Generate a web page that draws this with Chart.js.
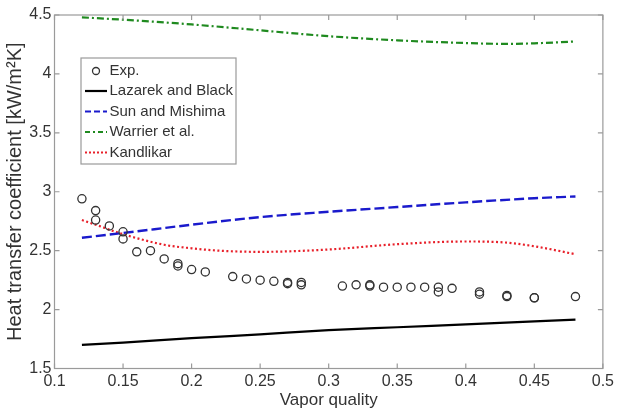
<!DOCTYPE html>
<html>
<head>
<meta charset="utf-8">
<script src="https://cdn.jsdelivr.net/npm/chart.js@4/dist/chart.umd.min.js"></script>
<style>
html,body{margin:0;padding:0;background:#fff;}
canvas{display:block;}
</style>
</head>
<body>
<canvas id="c" width="617" height="415"></canvas>
<script>
// ---- data ----
const expX = [0.12,0.13,0.13,0.14,0.15,0.15,0.16,0.17,0.18,0.19,0.19,0.20,0.21,0.23,0.24,0.25,0.26,0.27,0.27,0.28,0.28,
              0.31,0.32,0.33,0.33,0.34,0.35,0.36,0.37,0.38,0.38,0.39,0.41,0.41,0.43,0.43,0.45,0.45,0.48];
const expY = [2.94,2.84,2.76,2.71,2.66,2.60,2.49,2.50,2.43,2.39,2.37,2.34,2.32,2.28,2.26,2.25,2.24,2.23,2.22,2.23,2.21,
              2.20,2.21,2.21,2.20,2.19,2.19,2.19,2.19,2.19,2.15,2.18,2.15,2.13,2.12,2.11,2.10,2.10,2.11];

const lazX = [0.12,0.15,0.20,0.25,0.30,0.35,0.40,0.45,0.48];
const lazY = [1.70,1.72,1.757,1.79,1.825,1.85,1.875,1.90,1.915];

const sunX = [0.12,0.15,0.20,0.25,0.30,0.35,0.40,0.45,0.48];
const sunY = [2.61,2.65,2.72,2.785,2.83,2.87,2.91,2.945,2.96];

const warX = [0.12,0.15,0.20,0.25,0.30,0.35,0.40,0.43,0.45,0.48];
const warY = [4.48,4.46,4.42,4.37,4.32,4.285,4.262,4.255,4.26,4.275];

const kanX = [0.12,0.13,0.15,0.18,0.20,0.22,0.25,0.30,0.35,0.40,0.43,0.45,0.48];
const kanY = [2.76,2.72,2.64,2.55,2.52,2.50,2.49,2.51,2.555,2.578,2.568,2.537,2.47];

const xTicks = [0.1,0.15,0.2,0.25,0.3,0.35,0.4,0.45,0.5];
const xTickLabels = ['0.1','0.15','0.2','0.25','0.3','0.35','0.4','0.45','0.5'];
const yTicks = [1.5,2,2.5,3,3.5,4,4.5];
const yTickLabels = ['1.5','2','2.5','3','3.5','4','4.5'];

const seriesNames = ['Exp.','Lazarek and Black','Sun and Mishima','Warrier et al.','Kandlikar'];
const xTitle = 'Vapor quality';
const yTitle = 'Heat transfer coefficient [kW/m\u00B2K]';

// ---- chart ----
const FONT = '"Liberation Sans", Arial, sans-serif';
const TXT = '#333';
const FRAME = '#9a9a9a';
const zip = (xs, ys) => xs.map((x, i) => ({x, y: ys[i]}));

const lineDs = (label, xs, ys, color, dash, width) => ({
  type: 'scatter', label, data: zip(xs, ys), showLine: true,
  borderColor: color, backgroundColor: color, borderWidth: width, borderDash: dash,
  pointRadius: 0, pointHoverRadius: 0, cubicInterpolationMode: 'monotone', fill: false
});

const datasets = [
  {type: 'scatter', label: seriesNames[0], data: zip(expX, expY), showLine: false,
   pointStyle: 'circle', pointRadius: 4.1, borderWidth: 1.3, borderColor: '#333',
   backgroundColor: 'rgba(0,0,0,0)', order: 0},
  Object.assign(lineDs(seriesNames[1], lazX, lazY, '#000', [], 2.2), {order: 1}),
  Object.assign(lineDs(seriesNames[2], sunX, sunY, '#1a1acc', [10, 4], 2.4), {order: 1}),
  Object.assign(lineDs(seriesNames[3], warX, warY, '#1f8a1f', [7, 3, 2, 3], 2.2), {order: 1}),
  Object.assign(lineDs(seriesNames[4], kanX, kanY, '#e8202a', [2, 2.5], 2.2), {order: 1})
];

const legendStyles = [
  {type: 'circle', color: '#333'},
  {type: 'line', color: '#000', dash: [], width: 2.2},
  {type: 'line', color: '#1a1acc', dash: [6, 3], width: 2.2},
  {type: 'line', color: '#1f8a1f', dash: [5, 3, 2, 3], width: 2.2},
  {type: 'line', color: '#e8202a', dash: [2, 2], width: 2.2}
];

const framePlugin = {
  id: 'frame',
  afterDatasetsDraw(chart) {
    const {ctx, chartArea: a, scales: {x, y}} = chart;
    ctx.save();
    ctx.strokeStyle = FRAME;
    ctx.lineWidth = 1.2;
    ctx.setLineDash([]);
    ctx.strokeRect(a.left, a.top, a.right - a.left, a.bottom - a.top);
    const L = 5;
    ctx.beginPath();
    xTicks.forEach(v => {
      const px = x.getPixelForValue(v);
      ctx.moveTo(px, a.bottom); ctx.lineTo(px, a.bottom - L);
      ctx.moveTo(px, a.top); ctx.lineTo(px, a.top + L);
    });
    yTicks.forEach(v => {
      const py = y.getPixelForValue(v);
      ctx.moveTo(a.left, py); ctx.lineTo(a.left + L, py);
      ctx.moveTo(a.right, py); ctx.lineTo(a.right - L, py);
    });
    ctx.stroke();

    // legend box
    const bx = 81, by = 58, bw = 155, bh = 106;
    ctx.fillStyle = '#fff';
    ctx.fillRect(bx, by, bw, bh);
    ctx.strokeStyle = '#9a9a9a';
    ctx.lineWidth = 1.2;
    ctx.strokeRect(bx, by, bw, bh);
    ctx.font = '15px ' + FONT;
    ctx.textBaseline = 'middle';
    ctx.textAlign = 'left';
    const rowY = [71, 91, 111.5, 132, 152.5];
    seriesNames.forEach((name, i) => {
      const st = legendStyles[i];
      const yy = rowY[i];
      if (st.type === 'circle') {
        ctx.beginPath();
        ctx.setLineDash([]);
        ctx.lineWidth = 1.3;
        ctx.strokeStyle = st.color;
        ctx.arc(96, yy, 3.5, 0, Math.PI * 2);
        ctx.stroke();
      } else {
        ctx.beginPath();
        ctx.setLineDash(st.dash);
        ctx.lineWidth = st.width;
        ctx.strokeStyle = st.color;
        ctx.moveTo(85, yy); ctx.lineTo(107, yy);
        ctx.stroke();
      }
      ctx.setLineDash([]);
      ctx.fillStyle = TXT;
      ctx.fillText(name, 109.5, yy);
    });
    ctx.restore();
  }
};

new Chart(document.getElementById('c'), {
  type: 'scatter',
  data: {datasets},
  options: {
    responsive: false,
    animation: false,
    layout: {padding: {top: 15, right: 12.7, left: 0, bottom: 0}},
    plugins: {legend: {display: false}, tooltip: {enabled: false}},
    scales: {
      x: {
        type: 'linear', min: 0.1, max: 0.5,
        afterBuildTicks: s => { s.ticks = xTicks.map(v => ({value: v})); },
        afterFit: s => { s.height = 46.5; },
        grid: {display: false, drawTicks: false},
        border: {display: false},
        ticks: {
          padding: 3, color: TXT, font: {family: FONT, size: 16},
          maxRotation: 0, autoSkip: false,
          callback: (v) => { const i = xTicks.findIndex(t => Math.abs(t - v) < 1e-9); return i >= 0 ? xTickLabels[i] : ''; }
        },
        title: {display: true, text: xTitle, color: TXT, font: {family: FONT, size: 17}, padding: {top: 0, bottom: 4}}
      },
      y: {
        type: 'linear', min: 1.5, max: 4.5,
        afterBuildTicks: s => { s.ticks = yTicks.map(v => ({value: v})); },
        afterFit: s => { s.width = 54.5; },
        grid: {display: false, drawTicks: false},
        border: {display: false},
        ticks: {
          padding: 3, color: TXT, font: {family: FONT, size: 16}, autoSkip: false,
          callback: (v) => { const i = yTicks.findIndex(t => Math.abs(t - v) < 1e-9); return i >= 0 ? yTickLabels[i] : ''; }
        },
        title: {display: true, text: yTitle, color: TXT, font: {family: FONT, size: 20}, padding: {top: 3, bottom: 0}}
      }
    }
  },
  plugins: [framePlugin]
});
</script>
</body>
</html>
